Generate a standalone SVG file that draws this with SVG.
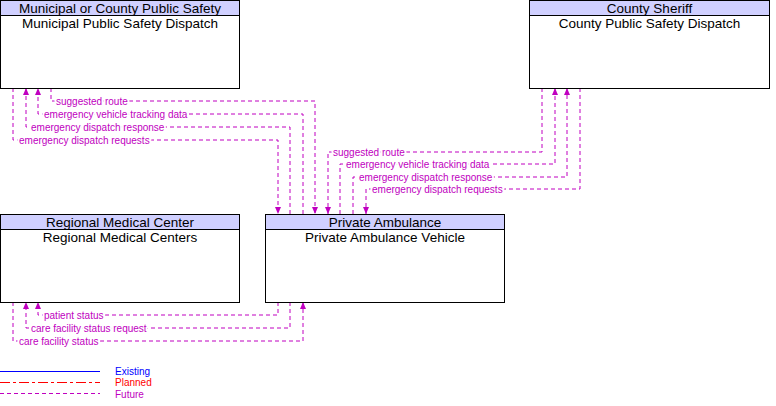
<svg xmlns="http://www.w3.org/2000/svg" width="776" height="406" viewBox="0 0 776 406">
<style>
.box{fill:#fff;stroke:#000;stroke-width:1}
.hdr{fill:#D0D0FF;stroke:#000;stroke-width:1}
.t{font-family:"Liberation Sans",Arial,sans-serif;font-size:13.5px;fill:#000;text-anchor:middle}
.c{fill:none;stroke:#C000C0;stroke-width:1;stroke-dasharray:4,3}
.l{font-family:"Liberation Sans",Arial,sans-serif;font-size:10px;fill:#C000C0;stroke:#fff;stroke-width:4;paint-order:stroke;stroke-linejoin:round}
.lg{font-family:"Liberation Sans",Arial,sans-serif;font-size:10px}
</style>
<defs>
<marker id="ah" markerUnits="userSpaceOnUse" markerWidth="8" markerHeight="8" refX="7" refY="4" orient="auto">
<path d="M0,1 L7,4 L0,7 z" fill="#C000C0"/>
</marker>
</defs>
<rect width="776" height="406" fill="#fff"/>
<g id="connectors">
<path class="c" d="M51,88 V101 H315 V214" marker-end="url(#ah)"/>
<path class="c" d="M303,214 V114 H38 V88" marker-end="url(#ah)"/>
<path class="c" d="M290,214 V127 H26 V88" marker-end="url(#ah)"/>
<path class="c" d="M13,88 V140 H278 V214" marker-end="url(#ah)"/>
<path class="c" d="M542,88 V152 H328 V214" marker-end="url(#ah)"/>
<path class="c" d="M340,214 V164 H555 V88" marker-end="url(#ah)"/>
<path class="c" d="M353,214 V177 H567 V88" marker-end="url(#ah)"/>
<path class="c" d="M580,88 V189 H366 V214" marker-end="url(#ah)"/>
<path class="c" d="M278,302 V315 H38 V302" marker-end="url(#ah)"/>
<path class="c" d="M290,302 V328 H26 V302" marker-end="url(#ah)"/>
<path class="c" d="M13,302 V341 H303 V302" marker-end="url(#ah)"/>
<text class="l" x="56" y="104.5">suggested route</text>
<text class="l" x="44" y="117.5">emergency vehicle tracking data</text>
<text class="l" x="31" y="130.5">emergency dispatch response</text>
<text class="l" x="19" y="143.5">emergency dispatch requests</text>
<text class="l" x="333" y="155.5">suggested route</text>
<text class="l" x="346" y="167.5">emergency vehicle tracking data</text>
<text class="l" x="359" y="180.5">emergency dispatch response</text>
<text class="l" x="372" y="192.5">emergency dispatch requests</text>
<text class="l" x="44" y="318.5">patient status</text>
<text class="l" x="31" y="331.5">care facility status request</text>
<text class="l" x="19" y="344.5">care facility status</text>
</g>
<g id="municipal">
<rect class="box" x="0.5" y="0.5" width="239" height="88"/>
<rect class="hdr" x="0.5" y="0.5" width="239" height="15"/>
<text class="t" x="120" y="13">Municipal or County Public Safety</text>
<text class="t" x="120" y="28">Municipal Public Safety Dispatch</text>
</g>
<g id="county">
<rect class="box" x="529.5" y="0.5" width="240" height="88"/>
<rect class="hdr" x="529.5" y="0.5" width="240" height="15"/>
<text class="t" x="649.5" y="13">County Sheriff</text>
<text class="t" x="649.5" y="28">County Public Safety Dispatch</text>
</g>
<g id="regional">
<rect class="box" x="0.5" y="214.5" width="239" height="88"/>
<rect class="hdr" x="0.5" y="214.5" width="239" height="15"/>
<text class="t" x="120" y="227">Regional Medical Center</text>
<text class="t" x="120" y="242">Regional Medical Centers</text>
</g>
<g id="ambulance">
<rect class="box" x="265.5" y="214.5" width="239" height="88"/>
<rect class="hdr" x="265.5" y="214.5" width="239" height="15"/>
<text class="t" x="385" y="227">Private Ambulance</text>
<text class="t" x="385" y="242">Private Ambulance Vehicle</text>
</g>
<g id="legend">
<line x1="0" y1="371.5" x2="100" y2="371.5" stroke="#0000FF" stroke-width="1"/>
<line x1="0" y1="382.5" x2="100" y2="382.5" stroke="#FF0000" stroke-width="1" stroke-dasharray="10,3,3,3"/>
<line x1="0" y1="393.5" x2="100" y2="393.5" stroke="#C000C0" stroke-width="1" stroke-dasharray="4,3"/>
<text class="lg" x="115" y="375" fill="#0000FF">Existing</text>
<text class="lg" x="115" y="386" fill="#FF0000">Planned</text>
<text class="lg" x="115" y="397.5" fill="#C000C0">Future</text>
</g>
</svg>
